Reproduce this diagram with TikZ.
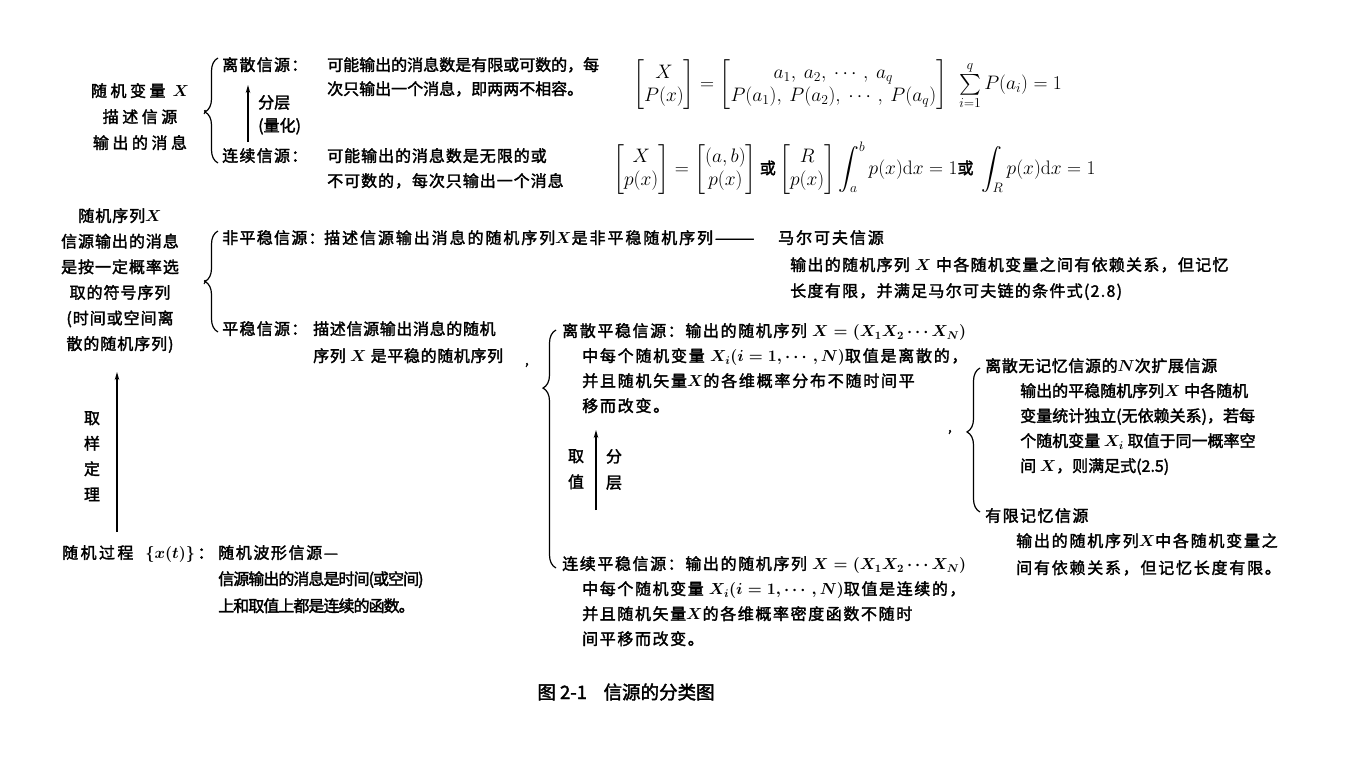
\RequirePackage{fix-cm}
\documentclass[tikz,border=0pt]{standalone}
\usepackage{amsmath}
\usepackage[no-math]{fontspec}
\setmainfont{Noto Sans CJK SC}[FakeBold=2]
\usetikzlibrary{arrows.meta,decorations.pathreplacing}
\newcommand\mytrack{0}
\tikzset{
  tracking/.code={\def\mytrack{#1}},
  blk/.style={anchor=north west, inner sep=0pt, align=left, font=\fontsize{16}{#1}\selectfont\addfontfeature{LetterSpace=\mytrack}\boldmath},
  blk/.default=25,
  cblk/.style={anchor=north, inner sep=0pt, align=center, font=\fontsize{16}{#1}\selectfont\addfontfeature{LetterSpace=\mytrack}\boldmath},
  cblk/.default=25,
  frm/.style={anchor=west, inner sep=0pt, font=\fontsize{19.5}{23}\selectfont},
  commamark/.style={inner sep=0pt, font=\fontsize{13}{15}\selectfont},
  brc/.style={decorate, line width=1.2pt, decoration={brace, amplitude=13pt, aspect=#1}},
  uparrow/.style={line width=1.4pt, -{Stealth[length=8pt,width=4.5pt]}}
}
\newcommand\huo{\text{\fontsize{16}{16}\selectfont 或}}
\begin{document}
\begin{tikzpicture}[x=1pt,y=-1pt]
\useasboundingbox[fill=white] (0,0) rectangle (1347,766);

% ---------- section 1 : random variable ----------
\node[cblk=26, tracking=22] (src1) at (140,83) {随机变量 $X$\\描述信源\\输出的消息};
\node[commamark] (cm1) at (205,112) {,};
\coordinate (b1s) at (218,163);
\coordinate (b1e) at (218,58);
\draw[brc=0.486] (b1s) -- (b1e);
\node[blk, tracking=8] (d1) at (222,57) {离散信源：};
\node[blk=24] (d1t) at (327,57) {可能输出的消息数是有限或可数的，每\\次只输出一个消息，即两两不相容。};
\coordinate (a1s) at (248,142);
\coordinate (a1e) at (248,85);
\draw[uparrow] (a1s) -- (a1e);
\node[blk=23] (q1) at (258,95) {分层\\(量化)};
\node[blk, tracking=8] (c1) at (222,148) {连续信源：};
\node[blk, tracking=6] (c1t) at (327,148) {可能输出的消息数是无限的或\\不可数的，每次只输出一个消息};
\node[frm] (f1) at (633,85) {$\displaystyle
 \begin{bmatrix} X\\ P(x)\end{bmatrix}=
 \begin{bmatrix} a_1,\ a_2,\ \cdots,\ a_q\\ P(a_1),\ P(a_2),\ \cdots,\ P(a_q)\end{bmatrix}\ \
 \textstyle\sum\limits_{i=1}^{q}P(a_i)=1$};
\node[frm] (f2) at (613,168) {$\displaystyle
 \begin{bmatrix} X\\ p(x)\end{bmatrix}=
 \begin{bmatrix} (a,b)\\ p(x)\end{bmatrix}\huo
 \begin{bmatrix} R\\ p(x)\end{bmatrix}
 \int_a^b p(x)\mathrm{d}x=1\huo\ \int_R p(x)\mathrm{d}x=1$};

% ---------- section 2 : random sequence ----------
\node[cblk=25.6, tracking=6] (src2) at (120,208) {随机序列$X$\\信源输出的消息\\是按一定概率选\\取的符号序列\\(时间或空间离\\散的随机序列)};
\node[commamark] (cm2) at (205,282) {,};
\coordinate (b2s) at (218,332);
\coordinate (b2e) at (218,231);
\draw[brc=0.5] (b2s) -- (b2e);
\node[blk, tracking=8] (ns) at (222,230) {非平稳信源：};
\node[blk, tracking=12] (nst) at (324,230) {描述信源输出消息的随机序列$X$是非平稳随机序列———};
\node[blk, tracking=12] (mk) at (778,230) {马尔可夫信源};
\node[blk=26, tracking=8] (mkt) at (790,257) {输出的随机序列 $X$ 中各随机变量之间有依赖关系，但记忆\\长度有限，并满足马尔可夫链的条件式(2.8)};
\node[blk, tracking=8] (st) at (222,321) {平稳信源：};
\node[blk=27, tracking=4] (stt) at (313,321) {描述信源输出消息的随机\\序列 $X$ 是平稳的随机序列};
\node[commamark] (cm3) at (527,365) {,};
\coordinate (b3s) at (556,568);
\coordinate (b3e) at (556,330);
\draw[brc=0.756] (b3s) -- (b3e);
\node[blk, tracking=10] (ds) at (562,323) {离散平稳信源：输出的随机序列 $X=(X_1X_2\cdots X_N)$};
\node[blk, tracking=11] (dst) at (582,348) {中每个随机变量 $X_i(i=1,\cdots,N)$取值是离散的，\\并且随机矢量$X$的各维概率分布不随时间平\\移而改变。};
\coordinate (a3s) at (596,510);
\coordinate (a3e) at (596,430);
\draw[uparrow] (a3s) -- (a3e);
\node[cblk=26] (qz) at (576,449) {取\\值};
\node[cblk=26] (fc) at (614,449) {分\\层};
\node[blk, tracking=10] (cs) at (562,556) {连续平稳信源：输出的随机序列 $X=(X_1X_2\cdots X_N)$};
\node[blk, tracking=10] (cst) at (582,581) {中每个随机变量 $X_i(i=1,\cdots,N)$取值是连续的，\\并且随机矢量$X$的各维概率密度函数不随时\\间平移而改变。};

% ---------- section 3 : stationary discrete subclasses ----------
\node[commamark] (cm4) at (950,432) {,};
\coordinate (b4s) at (980,512);
\coordinate (b4e) at (980,368);
\draw[brc=0.556] (b4s) -- (b4e);
\node[blk, tracking=4] (ms) at (985,358) {离散无记忆信源的$N$次扩展信源};
\node[blk] (mst) at (1020,383) {输出的平稳随机序列$X$ 中各随机\\变量统计独立(无依赖关系)，若每\\个随机变量 $X_i$ 取值于同一概率空\\间 $X$，则满足式(2.5)};
\node[blk, tracking=9] (fm) at (985,508) {有限记忆信源};
\node[blk=27, tracking=11] (fmt) at (1016,533) {输出的随机序列$X$中各随机变量之\\间有依赖关系，但记忆长度有限。};

% ---------- section 4 : random process ----------
\coordinate (a2s) at (117,532);
\coordinate (a2e) at (117,372);
\draw[uparrow] (a2s) -- (a2e);
\node[cblk=25.5] (sy) at (92,411) {取\\样\\定\\理};
\node[blk, tracking=15] (rp) at (62,545) {随机过程\ \ $\{x(t)\}$\,：};
\node[blk, tracking=10] (rw) at (218,545) {随机波形信源—};
\node[blk=27, tracking=-6] (rpt) at (218,571) {信源输出的消息是时间(或空间)\\上和取值上都是连续的函数。};

% ---------- caption ----------
\node[inner sep=0pt, font=\fontsize{18.5}{22}\selectfont] (cap) at (626,692) {图 2-1\hspace{0.9em}信源的分类图};
\end{tikzpicture}
\end{document}
